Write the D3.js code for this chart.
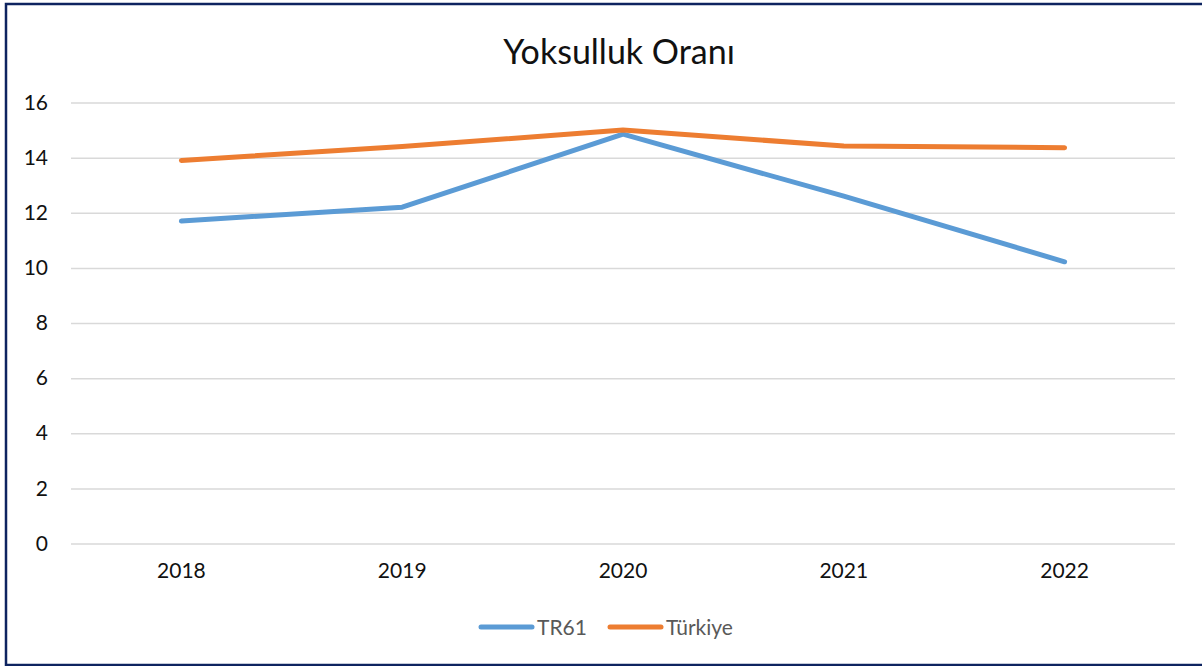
<!DOCTYPE html>
<html>
<head>
<meta charset="utf-8">
<script src="https://cdn.jsdelivr.net/npm/d3@7"></script>
<style>
  html, body { margin: 0; padding: 0; background: #fff; }
  svg { display: block; }
  text { font-family: Lato, "Open Sans", sans-serif; }
</style>
</head>
<body>
<svg id="chart" width="1202" height="666"></svg>
<script>
// Poverty rate (%) by year
const years = ["2018", "2019", "2020", "2021", "2022"];
const tr61 = [11.7, 12.2, 14.85, 12.6, 10.22];
const turkiye = [13.9, 14.4, 15.0, 14.42, 14.36];
const yTicks = [0, 2, 4, 6, 8, 10, 12, 14, 16];
const seriesNames = ["TR61", "Türkiye"];
const seriesColors = ["#5B9BD5", "#ED7D31"];

const svg = d3.select("#chart");
const W = 1202, H = 666;

// frame
svg.append("rect")
  .attr("x", 6).attr("y", 4)
  .attr("width", W + 10).attr("height", 661)
  .attr("fill", "#fff")
  .attr("stroke", "#0E2460").attr("stroke-width", 2.5);

const plot = { left: 71, right: 1175, top: 102.5, bottom: 543.5 };

const x = d3.scaleBand().domain(years).range([plot.left, plot.right]);
const y = d3.scaleLinear().domain([0, 16]).range([plot.bottom, plot.top]);

// title
svg.append("text")
  .attr("x", 619).attr("y", 64)
  .attr("text-anchor", "middle")
  .attr("font-size", 34)
  .attr("fill", "#111")
  .text("Yoksulluk Oranı");

// gridlines + y labels
const yAxis = d3.axisLeft(y).tickValues(yTicks).tickSize(-(plot.right - plot.left)).tickPadding(23);
const gy = svg.append("g").attr("transform", `translate(${plot.left},0)`).call(yAxis);
gy.select(".domain").remove();
gy.selectAll(".tick line").attr("stroke", "#D9D9D9").attr("stroke-width", 1.5);
gy.selectAll(".tick text").attr("font-size", 21).attr("fill", "#111")
  .style("font-family", "Lato, 'Open Sans', sans-serif");

// x labels
const xAxis = d3.axisBottom(x).tickSize(0).tickPadding(20);
const gx = svg.append("g").attr("transform", `translate(0,${plot.bottom})`).call(xAxis);
gx.select(".domain").remove();
gx.selectAll(".tick text").attr("font-size", 21).attr("fill", "#111")
  .style("font-family", "Lato, 'Open Sans', sans-serif");

// lines
const line = d3.line()
  .x((d, i) => x(years[i]) + x.bandwidth() / 2)
  .y(d => y(d));

[tr61, turkiye].forEach((vals, k) => {
  svg.append("path")
    .datum(vals)
    .attr("d", line)
    .attr("fill", "none")
    .attr("stroke", seriesColors[k])
    .attr("stroke-width", 5)
    .attr("stroke-linecap", "round")
    .attr("stroke-linejoin", "round");
});

// legend
const legendItems = [
  { name: seriesNames[0], color: seriesColors[0], x0: 481, tx: 537 },
  { name: seriesNames[1], color: seriesColors[1], x0: 610, tx: 666 }
];
legendItems.forEach(it => {
  svg.append("line")
    .attr("x1", it.x0).attr("x2", it.x0 + 51)
    .attr("y1", 627).attr("y2", 627)
    .attr("stroke", it.color).attr("stroke-width", 5)
    .attr("stroke-linecap", "round");
  svg.append("text")
    .attr("x", it.tx).attr("y", 635)
    .attr("font-size", 21).attr("fill", "#595959")
    .text(it.name);
});
</script>
</body>
</html>
